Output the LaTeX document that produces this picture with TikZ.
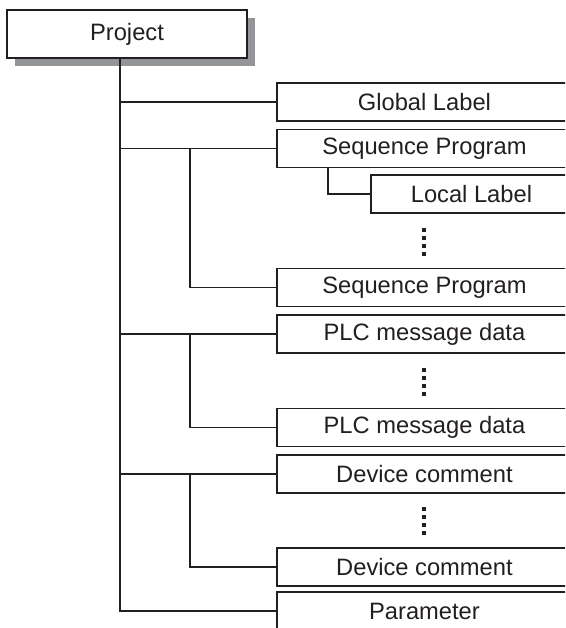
\documentclass[tikz,border=0pt]{standalone}
\usepackage{fontspec}
\setmainfont{Liberation Sans}
\usetikzlibrary{calc,shadows}
\definecolor{ink}{HTML}{231F20}
\definecolor{shade}{HTML}{939598}

\begin{document}
\begin{tikzpicture}[x=1pt,y=-1pt,line width=1.9pt,color=ink,font=\fontsize{23.7}{28}\selectfont,
  projbox/.style={draw,fill=white,minimum width=240pt,minimum height=48pt,inner sep=0pt,
    general shadow={fill=shade,shadow xshift=8pt,shadow yshift=-8pt}},
  item/.style={draw,fill=white,minimum width=295pt,minimum height=38pt,inner sep=0pt,anchor=west},
  subitem/.style={item,minimum width=201pt},
  vdots/.style={line width=4pt,dash pattern=on 4pt off 4pt}]
  \useasboundingbox (0,0) rectangle (565,628);
  \clip (0,0) rectangle (565,628);
  \node[projbox] (prj) at (127,34) {Project};
  \node[item] (glb) at (276,102) {Global Label};
  \node[item] (seqa) at (276,148.5) {Sequence Program};
  \node[subitem] (loc) at (370,194) {Local Label};
  \node[item] (seqb) at (276,287.5) {Sequence Program};
  \node[item] (plca) at (276,334) {PLC message data};
  \node[item] (plcb) at (276,427.5) {PLC message data};
  \node[item] (deva) at (276,474) {Device comment};
  \node[item] (devb) at (276,567) {Device comment};
  \node[item] (par) at (276,611) {Parameter};
  \coordinate (trunk) at (120,0);
  \coordinate (fork) at (190,0);
  \coordinate (sub) at (328,0);
  % tree lines
  \draw (trunk |- prj.south) |- (par.west);
  \foreach \n in {glb,seqa,plca,deva}
    \draw (trunk |- \n.west) -- (\n.west);
  \draw (fork |- seqa.west) |- (seqb.west);
  \draw (fork |- plca.west) |- (plcb.west);
  \draw (fork |- deva.west) |- (devb.west);
  \draw (sub |- seqa.south) |- (loc.west);
  % omitted entries
  \foreach \n in {seqb,plcb,devb}
    \draw[vdots] ($(\n.north)+(0,-40)$) -- ++(0,28);
\end{tikzpicture}
\end{document}
